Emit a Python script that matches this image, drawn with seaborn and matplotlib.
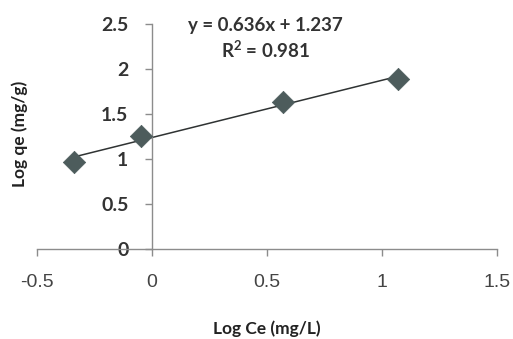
import matplotlib
matplotlib.use("Agg")
import matplotlib.pyplot as plt
import numpy as np
import pandas as pd
import seaborn as sns

# Freundlich isotherm data (log-transformed)
log_ce = [-0.34, -0.05, 0.57, 1.07]
log_qe = [0.97, 1.26, 1.63, 1.89]
x_ticks = [-0.5, 0, 0.5, 1, 1.5]
y_ticks = [0, 0.5, 1, 1.5, 2, 2.5]
x_tick_labels = ["-0.5", "0", "0.5", "1", "1.5"]
y_tick_labels = ["0", "0.5", "1", "1.5", "2", "2.5"]
equation_text = "y = 0.636x + 1.237"
r2_text = "R$^2$ = 0.981"

sns.set_style("white")
plt.rcParams["font.family"] = ["Lato", "DejaVu Sans"]
plt.rcParams["mathtext.fontset"] = "custom"
plt.rcParams["mathtext.rm"] = "Lato:bold"

df = pd.DataFrame({"log_ce": log_ce, "log_qe": log_qe})

# Linear trendline fitted on the data, spanning the data range
slope, intercept = np.polyfit(df["log_ce"], df["log_qe"], 1)
fit = pd.DataFrame({"x": [min(log_ce), max(log_ce)]})
fit["y"] = slope * fit["x"] + intercept

W, H = 513, 339
fig = plt.figure(figsize=(W / 100, H / 100), dpi=100)
ax = fig.add_axes([37 / W, (H - 249) / H, 460 / W, 225 / H])

sns.lineplot(data=fit, x="x", y="y", ax=ax, color="#2f3333", linewidth=1.1)
sns.scatterplot(data=df, x="log_ce", y="log_qe", ax=ax, marker="D", s=130,
                color="#4d5c5c", edgecolor="#4d5c5c", linewidth=0.5, zorder=3)

ax.set_xlim(-0.5, 1.5)
ax.set_ylim(0, 2.5)

# Axes cross at the origin
ax.spines["left"].set_position(("data", 0))
ax.spines["bottom"].set_position(("data", 0))
ax.spines["top"].set_visible(False)
ax.spines["right"].set_visible(False)
for side in ("left", "bottom"):
    ax.spines[side].set_color("#8c8c8c")
    ax.spines[side].set_linewidth(1.0)

ax.set_xticks(x_ticks)
ax.set_xticklabels(x_tick_labels, fontfamily="Liberation Sans", fontsize=14,
                   color="#444444")
ax.set_yticks(y_ticks)
ax.set_yticklabels(y_tick_labels, fontsize=14, color="#333333",
                   fontweight="bold")
ax.tick_params(axis="x", direction="out", length=5, width=1, color="#8c8c8c",
               pad=13, bottom=True)
ax.tick_params(axis="y", direction="out", length=5, width=1, color="#8c8c8c",
               pad=12, left=True)

ax.set_xlabel("")
ax.set_ylabel("")
fig.text(267 / W, 1 - 329 / H, "Log Ce (mg/L)", ha="center", va="center",
         fontsize=12.5, fontweight="bold", color="#222222")
fig.text(20 / W, 1 - 134 / H, "Log qe (mg/g)", ha="center", va="center",
         rotation=90, fontsize=12.5, fontweight="bold", color="#222222")

fig.text(265 / W, 1 - 25 / H, equation_text, ha="center", va="center",
         fontsize=13.5, fontweight="bold", color="#333333")
fig.text(266 / W, 1 - 50 / H, r2_text, ha="center", va="center",
         fontsize=13.5, fontweight="bold", color="#333333")

fig.savefig("out.png", dpi=100, facecolor="white")
